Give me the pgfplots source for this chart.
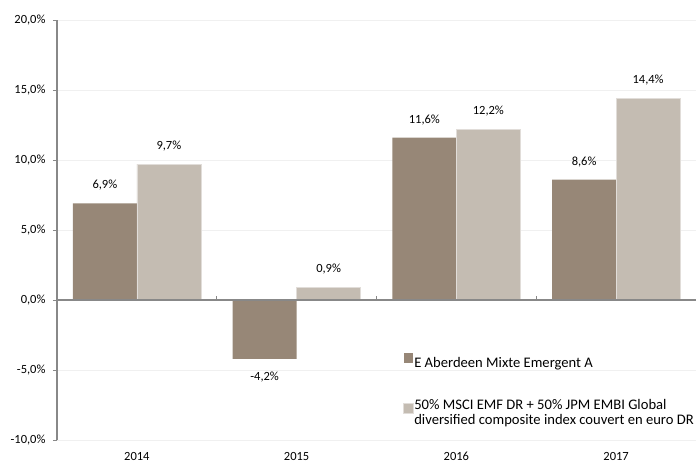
\documentclass[border=0pt]{standalone}
\usepackage{pgfplots}
\pgfplotsset{compat=1.18}
\usepackage{fontspec}
\setmainfont{Carlito}
\definecolor{brownbar}{HTML}{978777}
\definecolor{lightbar}{HTML}{C4BCB2}
\definecolor{axgray}{HTML}{888888}
\definecolor{gridc}{HTML}{F0F0F0}
\begin{document}
\begin{tikzpicture}
\begin{axis}[
  at={(57bp,23bp)}, anchor=south west,
  scale only axis, width=639bp, height=420bp,
  ymin=-10, ymax=20, xmin=-0.5, xmax=3.5,
  ytick={-10,-5,0,5,10,15,20},
  xtick={0,1,2,3}, xticklabels={2014,2015,2016,2017},
  axis lines*=left, axis line style={-},
  x axis line style={draw=none},
  y axis line style={axgray, line width=2bp},
  xtick style={draw=none},
  ytick style={axgray, line width=0.8bp},
  tick align=outside, major tick length=4bp,
  ymajorgrids, major grid style={gridc, line width=0.8bp},
  /pgf/number format/assume math mode=true,
  yticklabel={\pgfmathprintnumber[fixed,fixed zerofill,precision=1,use comma]{\tick}\%},
  ticklabel style={font=\fontsize{12.5bp}{15bp}\selectfont, text=black},
  yticklabel style={xshift=-4bp},
  xticklabel style={yshift=-4.5bp},
  ybar=0pt, bar width=64bp,
  nodes near coords={\pgfmathprintnumber[fixed,fixed zerofill,precision=1,use comma]{\pgfplotspointmeta}\%},
  visualization depends on={y \as \yval},
  every node near coord/.append style={font=\fontsize{12.5bp}{15bp}\selectfont, text=black, anchor=center, yshift={ifthenelse(\yval<0,-18,18)}},
  legend style={at={(0.5415,0.207)}, anchor=north west, draw=none, fill=none,
    font=\fontsize{14.6bp}{15bp}\selectfont, row sep=29bp, inner sep=0pt,
    nodes={inner sep=1bp, align=left}},
  legend cell align=left,
  legend image code/.code={\fill[#1] (0bp,0bp) rectangle (9.5bp,9.5bp);},
]
\addplot[fill=brownbar, draw=none] coordinates {(0,6.9) (1,-4.2) (2,11.6) (3,8.6)};
\addlegendentry{E Aberdeen Mixte Emergent A}
\addplot[fill=lightbar, draw=white!50!lightbar, line width=0.6bp] coordinates {(0,9.7) (1,0.9) (2,12.2) (3,14.4)};
\addlegendentry{50\% MSCI EMF DR + 50\% JPM EMBI Global\\diversified composite index couvert en euro DR}
\draw[axgray, line width=2bp] (axis cs:-0.5,0) -- (axis cs:3.5,0);
\pgfplotsinvokeforeach{0.5,1.5,2.5}{\draw[axgray, line width=1bp] (axis cs:#1,0) -- ([yshift=4bp]axis cs:#1,0);}
\end{axis}
\pgfresetboundingbox
\useasboundingbox (0,0) rectangle (696bp,463bp);
\end{tikzpicture}
\end{document}
